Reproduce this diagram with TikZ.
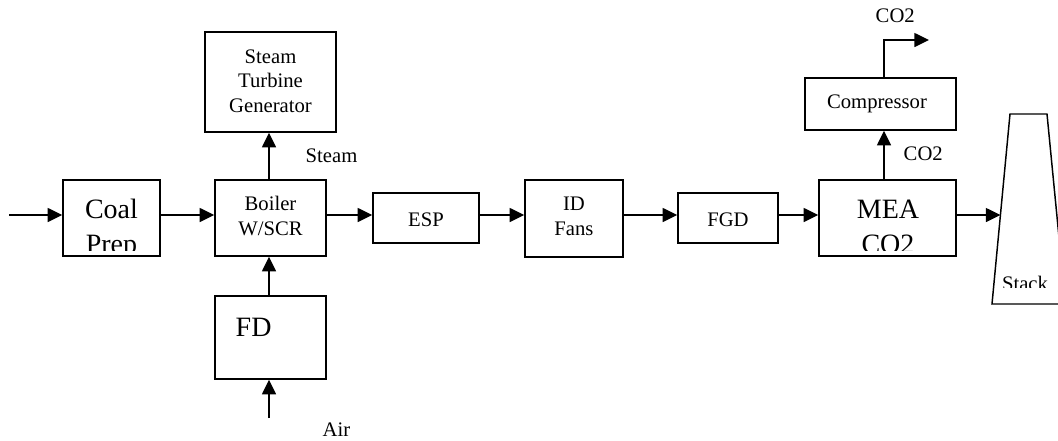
\documentclass[tikz,border=0pt]{standalone}
\usepackage{fontspec}
\setmainfont{Liberation Serif}
\usetikzlibrary{arrows.meta}
\begin{document}
\begin{tikzpicture}[x=0.75pt,y=-0.75pt,line width=1.1pt,
  blk/.style 2 args={draw, rectangle, inner sep=0pt,
    minimum width=#1*0.75pt, minimum height=#2*0.75pt},
  flow/.style={-{Triangle[length=11pt,width=10.5pt]}},
  smalltxt/.style={font=\fontsize{15.5}{18.4}\selectfont, inner sep=0pt},
  bigtxt/.style={font=\fontsize{21}{26}\selectfont, inner sep=0pt}]
\useasboundingbox (0,0) rectangle (1058,440);
\clip (0,0) rectangle (1058,440);

% helper coordinates for the flue-gas line and the vertical streams
\coordinate (main) at (0,215);
\coordinate (coalin) at (9,215);
\coordinate (airin) at (269,418);
\coordinate (co2x) at (884,0);
\coordinate (co2out) at (929,40);

% process blocks
\node[blk={97}{76}]  (coal)   at (111.5,218) {};
\node[blk={111}{76}] (boiler) at (270.5,218) {};
\node[blk={131}{100}] (stg)   at (270.5,82) {};
\node[blk={111}{83}] (fd)     at (270.5,337.5) {};
\node[blk={106}{50}] (esp)    at (426,218) {};
\node[blk={98}{77}]  (idf)    at (574,218.5) {};
\node[blk={100}{50}] (fgd)    at (728,218) {};
\node[blk={137}{76}] (mea)    at (887.5,218) {};
\node[blk={151}{52}] (comp)   at (880.5,104) {};

% stack outline
\coordinate (stl) at (1010,114);
\coordinate (str) at (1047,114);
\coordinate (sbr) at (1065.5,304);
\coordinate (sbl) at (992,304);
\coordinate (stackin) at (1000.5,215);
\draw (stl) -- (str) -- (sbr) -- (sbl) -- cycle;

% block texts
\begin{scope}
  \clip (66,183) rectangle (157,250);
  \node[bigtxt, anchor=base] (coalt1) at (111.5,218) {Coal};
  \node[bigtxt, anchor=base] (coalt2) at (111.5,253) {Prep};
\end{scope}
\node[smalltxt, anchor=base] (boilt1) at (270.5,210) {Boiler};
\node[smalltxt, anchor=base] (boilt2) at (270.5,235) {W/SCR};
\node[smalltxt, anchor=base] (stgt1) at (270.5,63) {Steam};
\node[smalltxt, anchor=base] (stgt2) at (270.5,87) {Turbine};
\node[smalltxt, anchor=base] (stgt3) at (270.5,112) {Generator};
\node[bigtxt, anchor=base west] (fdt) at (235,336) {FD};
\node[smalltxt, anchor=base] (espt) at (426,226) {ESP};
\node[smalltxt, anchor=base] (idft1) at (574,210) {ID};
\node[smalltxt, anchor=base] (idft2) at (574,235) {Fans};
\node[smalltxt, anchor=base] (fgdt) at (728,226) {FGD};
\begin{scope}
  \clip (822,183) rectangle (953,250);
  \node[bigtxt, anchor=base] (meat1) at (888,218) {MEA};
  \node[bigtxt, anchor=base] (meat2) at (888,253) {CO2};
\end{scope}
\node[smalltxt, anchor=base] (compt) at (877,108) {Compressor};
\begin{scope}
  \clip (995,120) rectangle (1058,287);
  \node[smalltxt, anchor=base] (stackt) at (1025,290) {Stack};
\end{scope}

% stream labels
\node[smalltxt, anchor=base west] (steamlbl) at (305,162) {Steam};
\node[smalltxt, anchor=base west] (co2lbl) at (903,160) {CO2};
\node[smalltxt, anchor=base west] (co2toplbl) at (875,22) {CO2};
\node[smalltxt, anchor=base west] (airlbl) at (322,436) {Air};

% flue-gas path
\draw[flow] (coalin) -- (coal.west |- main);
\draw[flow] (coal.east |- main) -- (boiler.west |- main);
\draw[flow] (boiler.east |- main) -- (esp.west |- main);
\draw[flow] (esp.east |- main) -- (idf.west |- main);
\draw[flow] (idf.east |- main) -- (fgd.west |- main);
\draw[flow] (fgd.east |- main) -- (mea.west |- main);
\draw[flow] (mea.east |- main) -- (stackin);

% vertical streams
\draw[flow] (boiler.north -| airin) -- (stg.south -| airin);
\draw[flow] (fd.north -| airin) -- (boiler.south -| airin);
\draw[flow] (airin) -- (fd.south -| airin);
\draw[flow] (mea.north -| co2x) -- (comp.south -| co2x);
\draw[flow] (comp.north -| co2x) |- (co2out);
\end{tikzpicture}
\end{document}
